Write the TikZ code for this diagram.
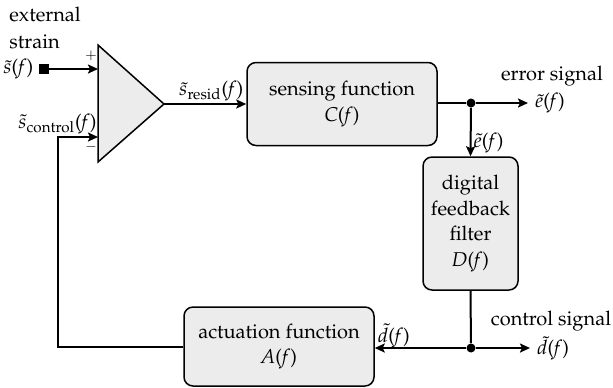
\documentclass[tikz,border=0pt]{standalone}
\usepackage[T1]{fontenc}
\usepackage{mathpazo}
\usetikzlibrary{arrows.meta}

\newcommand\fq{(\textit{f}\/)}

\tikzset{
  block/.style={draw, line width=0.75pt, fill=gray!15, rounded corners=4.5pt,
    align=center, inner sep=0pt, font=\linespread{1.08}\selectfont},
  wire/.style={line width=1pt},
  sig/.style={wire, -{Stealth[length=5pt, width=4.5pt, inset=1pt]}},
  junction/.style={circle, fill, inner sep=0pt, minimum size=4.5pt},
}

\begin{document}
\begin{tikzpicture}[x=0.5pt, y=-0.5pt]

\newcommand\U{0.5pt}

\useasboundingbox (0,0) rectangle (613,387); %% margins

%% summing amplifier
\coordinate (inp) at (98,69);
\coordinate (inm) at (98,137);
\coordinate (amp) at (164,104);
\draw[line width=0.75pt, fill=gray!15] (98,45) -- (amp) -- (98,162) -- cycle;
\node[font=\scriptsize, inner sep=0pt] (plus) at (91,56) {$+$};
\node[font=\scriptsize, inner sep=0pt] (minus) at (91,147) {$-$};

%% blocks
\node[block, minimum width=190*\U, minimum height=83*\U]
  (sense) at (342,104) {sensing function\\\textit{C}\fq};
\node[block, minimum width=95*\U, minimum height=133*\U]
  (filt) at (470.5,223.5) {digital\\feedback\\filter\\\textit{D}\fq};
\node[block, minimum width=190*\U, minimum height=79*\U]
  (act) at (279,346.5) {actuation function\\\textit{A}\fq};

\node[junction] (edot) at (471,103) {};
\node[junction] (ddot) at (471,348) {};

%% external strain input
\node[fill, inner sep=0pt, minimum size=10*\U] (src) at (44,69) {};
\node[anchor=east, inner sep=2.5pt] (srclbl) at (src.west) {$\tilde{s}$\fq};
\node[align=left, anchor=west, inner sep=1pt] (extlbl) at (7,28) {external\\[1.5pt]strain};
\draw[sig] (src) -- (inp);

\draw[sig] (amp) -- (sense.west)
  node[pos=1, anchor=south east, inner sep=1pt] {$\tilde{s}_{\mathrm{resid}}$\fq};

%% error signal
\coordinate (eout) at (528,103);
\draw[wire] (sense.east |- edot) -- (edot);
\draw[sig] (edot) -- (eout) node[right, inner sep=3pt] {$\tilde{e}$\fq};
\node[inner sep=1pt] (errlbl) at (552,76) {error signal};
\draw[sig] (edot) -- (filt.north)
  node[pos=0.72, right, inner sep=1pt] {$\tilde{e}$\fq};

%% control signal
\coordinate (dout) at (530,348);
\draw[wire] (filt.south) -- (ddot);
\draw[sig] (ddot) -- (dout) node[right, inner sep=3pt] {$\tilde{d}$\fq};
\node[inner sep=1pt] (ctllbl) at (551,321) {control signal};
\draw[sig] (ddot) -- (ddot -| act.east)
  node[pos=1, anchor=base west, inner sep=1pt, yshift=3pt] {$\tilde{d}$\fq};

%% feedback
\coordinate (fbc) at (58,137);
\draw[sig] (act.west) -| (fbc) -- (inm);
\node[anchor=base east, inner sep=0pt] (fblbl) at (97,128)
  {$\tilde{s}_{\mathrm{control}}$\fq};

\end{tikzpicture}
\end{document}
